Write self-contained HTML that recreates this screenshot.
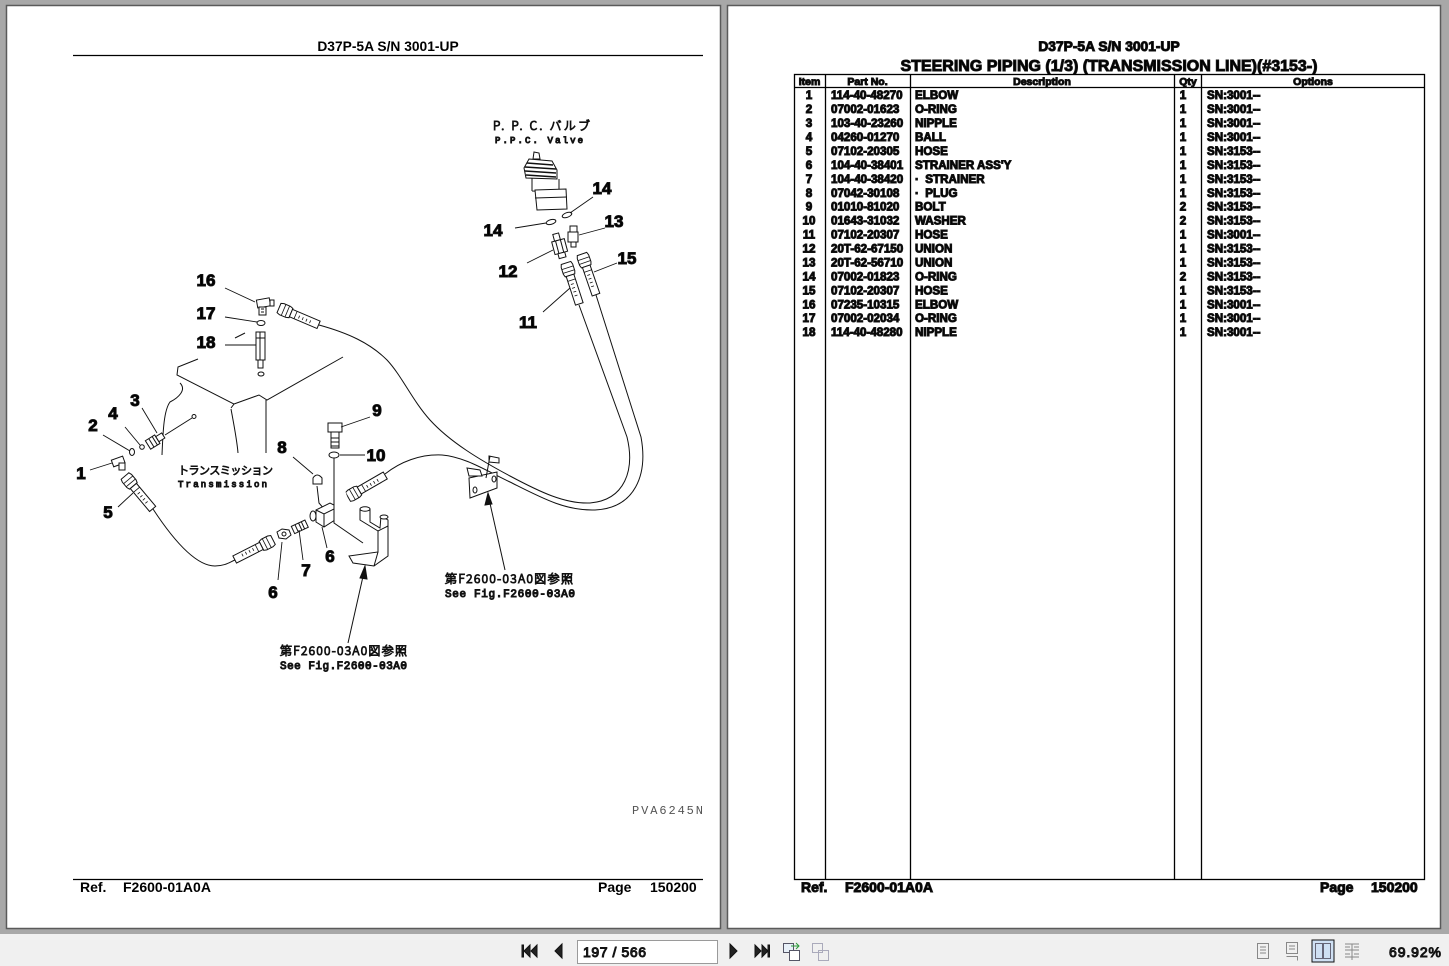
<!DOCTYPE html>
<html><head><meta charset="utf-8"><style>
html,body{margin:0;padding:0;width:1449px;height:966px;overflow:hidden;background:#a8a8a8;}
svg{display:block;}
.b{font-family:"Liberation Sans",Arial,sans-serif;font-weight:bold;fill:#000;}
.n{font-family:"Liberation Sans",Arial,sans-serif;font-weight:bold;font-size:17px;fill:#000;text-anchor:middle;}
.m{font-family:"Liberation Mono","Noto Sans CJK JP",monospace;fill:#555;}
.j{font-family:"Noto Sans CJK JP","Liberation Sans",sans-serif;font-weight:300;fill:#444;}
.t{font-family:"Liberation Sans",Arial,sans-serif;font-weight:bold;font-size:11.6px;fill:#000;}
</style></head><body>
<svg width="1449" height="966" viewBox="0 0 1449 966" xmlns="http://www.w3.org/2000/svg">
<defs>
<g id="he">
<path d="M0,-5 L3,-6 L10,-6 L13,-5 L13,5 L10,6 L3,6 L0,5 Z" fill="#fff" stroke="#111" stroke-width="1"/>
<line x1="5" y1="-6" x2="5" y2="6" stroke="#111" stroke-width="0.8"/>
<line x1="9" y1="-6" x2="9" y2="6" stroke="#111" stroke-width="0.8"/>
<rect x="13" y="-4" width="30" height="8" fill="#fff" stroke="#111" stroke-width="1"/>
<path d="M22,-1 v3 M26,-1 v3 M30,-1 v3 M34,-1 v3 M18,-4 v8" stroke="#111" stroke-width="0.8"/>
</g>
</defs>

<rect x="0" y="0" width="1449" height="966" fill="#a8a8a8"/>
<rect x="6.5" y="5.5" width="714" height="923" fill="#fff" stroke="#5a5a5a" stroke-width="1.5"/>
<rect x="727.5" y="5.5" width="713" height="923" fill="#fff" stroke="#5a5a5a" stroke-width="1.5"/>
<rect x="0" y="934" width="1449" height="32" fill="#f0f0f0"/>

<!-- LEFT PAGE HEADER/FOOTER -->
<text class="b" x="388" y="51" font-size="13.8" text-anchor="middle">D37P-5A S/N 3001-UP</text>
<line x1="73" y1="55.5" x2="703" y2="55.5" stroke="#000" stroke-width="1.2"/>
<line x1="73" y1="879.5" x2="703" y2="879.5" stroke="#000" stroke-width="1.2"/>
<text class="b" x="80" y="892" font-size="14">Ref.</text>
<text class="b" x="123" y="892" font-size="14">F2600-01A0A</text>
<text class="b" x="598" y="892" font-size="14">Page</text>
<text class="b" x="650" y="892" font-size="14">150200</text>
<text class="m" x="632" y="814" font-size="12" textLength="71">PVA6245N</text>

<!-- DIAGRAM -->
<g stroke="#111" stroke-width="1" fill="none">
<path d="M198,359 L178,367 L177,375 L234,404 L231,408 M234,404 L259,395 L267,400 L343,357"/>
<path d="M180,383 C187,390 178,398 170,402 C164,410 163,430 162,455"/>
<path d="M231,409 C233,420 237,440 238,453"/>
<path d="M266,400 L266,453"/>
<path d="M235,338 L245,333"/>

<path d="M319,325 C348,333 370,343 387,360 C402,376 412,400 430,420 C450,442 480,460 510,476 C540,492 565,504 590,503 C625,500 635,470 627,437 L579,305"/>
<path d="M385,474 C400,462 420,454 442,455 C465,457 485,470 510,482 C540,497 565,511 595,510 C635,508 648,475 641,437 L596,295"/>
<path d="M153,509 C172,538 195,566 215,566 C225,566 230,562 235,560"/>

<use href="#he" transform="translate(279,308) rotate(23)"/>
<use href="#he" transform="translate(125,476) rotate(50)"/>
<use href="#he" transform="translate(273,540) rotate(153)"/>
<use href="#he" transform="translate(348,497) rotate(-30)"/>
<use href="#he" transform="translate(566,263) rotate(72)"/>
<use href="#he" transform="translate(582,254) rotate(71)"/>

<g fill="#fff">
<rect x="257" y="299" width="13" height="8" transform="rotate(-10 263 303)"/>
<rect x="259" y="307" width="7" height="8"/>
<rect x="270" y="300" width="4" height="6"/>
<path d="M261,309 h3 M261,312 h3"/>
<ellipse cx="261" cy="323" rx="4" ry="2.5"/>
<rect x="256" y="332" width="9" height="28"/>
<path d="M256,338 h9 M260,332 v28"/>
<rect x="258" y="360" width="5" height="8"/>
<ellipse cx="261" cy="374" rx="3" ry="2"/>
<rect x="112" y="458" width="12" height="7" transform="rotate(-20 118 461)"/>
<rect x="119" y="463" width="6" height="7"/>
<ellipse cx="132" cy="452" rx="2.5" ry="3.5"/>
<circle cx="142" cy="447" r="2.3"/>
<g transform="translate(148,445) rotate(-32)">
<rect x="0" y="-5" width="11" height="10"/>
<path d="M4,-5 v10 M8,-5 v10"/>
<rect x="11" y="-3" width="7" height="6"/>
</g>
<path d="M165,435 L192,418"/>
<circle cx="194" cy="416.5" r="2"/>
<path d="M313,478 Q317,472 322,478 L322,484 L313,484 Z"/>
<path d="M317,486 L319,503 L325,510"/>
<path d="M316,510 L330,503 L338,507 L338,518 L324,527 L316,522 Z"/>
<path d="M316,510 L324,514 L338,507 M324,514 L324,527"/>
<ellipse cx="313" cy="516" rx="3" ry="5"/>
<g transform="translate(293,530) rotate(-25)">
<rect x="0" y="-4" width="15" height="8"/>
<path d="M4,-4 v8 M8,-4 v8 M11,-4 v8"/>
</g>
<path d="M277,532 L282,529 L289,530 L291,535 L286,539 L279,538 Z"/>
<circle cx="284" cy="534" r="2"/>
<rect x="328" y="423" width="14" height="9"/>
<rect x="331" y="432" width="8" height="16"/>
<path d="M331,438 h8 M331,442 h8 M331,446 h8"/>
<ellipse cx="334" cy="455" rx="5" ry="3"/>
<path d="M334,458 L334,523 L363,543"/>
<!-- L-bracket -->
<path d="M360,509 L360,520 L378,531 L378,552 L349,556 L353,563 L374,566 L388,556 L388,520 L381,516 L380,528 L370,522 L370,509"/>
<ellipse cx="365" cy="509" rx="5" ry="2.2"/>
<path d="M378,531 L388,526 M378,552 L374,566"/>
<ellipse cx="384" cy="517" rx="4" ry="2"/>
<!-- right bracket -->
<path d="M469,478 L497,472 L497,488 L470,498 Z"/>
<ellipse cx="475" cy="490" rx="2" ry="3"/>
<ellipse cx="494" cy="479" rx="2" ry="3"/>
<path d="M467,468 L480,470 L482,476 L469,476 Z"/>
<path d="M489,456 L499,458 L499,463 L489,462 Z"/>
<path d="M486,478 L490,456"/>
<rect x="570" y="226" width="7" height="6"/>
<rect x="568" y="232" width="10" height="10"/>
<rect x="571" y="242" width="5" height="5"/>
<g transform="rotate(-15 560 246)">
<rect x="556" y="233" width="6" height="7"/>
<rect x="553" y="240" width="13" height="13"/>
<path d="M557,240 v13 M562,240 v13"/>
<rect x="556" y="253" width="7" height="5"/>
</g>
<ellipse cx="567" cy="215" rx="5" ry="2.3" transform="rotate(-20 567 215)"/>
<ellipse cx="551" cy="222" rx="5" ry="2.3" transform="rotate(-15 551 222)"/>
<!-- PPC valve -->
<path d="M534,152 L539,153 L540,159 L533,159 Z"/>
<path d="M529,159 L552,161 L557,170 L557,179 L526,178 L524,168 Z"/>
<path d="M527,163 L553,165 M525,167 L556,169 M525,171 L556,173 M526,175 L556,177" stroke-width="1.6"/>
<path d="M532,178 L532,191 M559,179 L559,192 M532,191 L559,192"/>
<path d="M535,190 L566,189 L567,209 L537,210 Z"/>
<path d="M535,198 L567,197"/>
</g>
<path d="M225,288 L255,302 M225,317 L257,322 M225,345 L256,345 M142,408 L157,433 M125,427 L140,445 M103,435 L130,451 M90,470 L112,463 M118,507 L133,493 M293,457 L313,474 M278,580 L282,542 M303,560 L299,530 M327,548 L322,527 M370,417 L341,427 M365,455 L340,455 M593,197 L570,213 M515,228 L546,223 M605,228 L579,235 M527,263 L553,250 M617,263 L594,272 M543,312 L570,288" stroke="#111" stroke-width="0.9" fill="none"/>
<path d="M348,643 L364,572" stroke="#111" stroke-width="1"/>
<path d="M365,566 L360,578 L367,579 Z" fill="#111"/>
<path d="M505,570 L489,499" stroke="#111" stroke-width="1"/>
<path d="M488,493 L485,505 L492,504 Z" fill="#111"/>

<text class="n" x="206" y="286">16</text>
<text class="n" x="206" y="319">17</text>
<text class="n" x="206" y="348">18</text>
<text class="n" x="135" y="406">3</text>
<text class="n" x="113" y="419">4</text>
<text class="n" x="93" y="431">2</text>
<text class="n" x="81" y="479">1</text>
<text class="n" x="108" y="518">5</text>
<text class="n" x="282" y="453">8</text>
<text class="n" x="377" y="416">9</text>
<text class="n" x="376" y="461">10</text>
<text class="n" x="273" y="598">6</text>
<text class="n" x="306" y="576">7</text>
<text class="n" x="330" y="562">6</text>
<text class="n" x="602" y="194">14</text>
<text class="n" x="493" y="236">14</text>
<text class="n" x="614" y="227">13</text>
<text class="n" x="508" y="277">12</text>
<text class="n" x="627" y="264">15</text>
<text class="n" x="528" y="328">11</text>

<text class="j" x="493" y="130" font-size="12" textLength="97">P. P. C. バルブ</text>
<text class="m" x="495" y="143" font-size="9" textLength="88">P.P.C. Valve</text>
<text class="j" x="178" y="474" font-size="11" textLength="95">トランスミッション</text>
<text class="m" x="178" y="487" font-size="9" textLength="89">Transmission</text>
<text class="j" x="280" y="655" font-size="12" textLength="127">第F2600-03A0図参照</text>
<text class="m" x="280" y="669" font-size="11" textLength="127">See Fig.F2600-03A0</text>
<text class="j" x="445" y="583" font-size="12" textLength="128">第F2600-03A0図参照</text>
<text class="m" x="445" y="597" font-size="11" textLength="130">See Fig.F2600-03A0</text>

<!-- RIGHT PAGE -->
<text class="b" x="1109" y="51" font-size="13.8" text-anchor="middle">D37P-5A S/N 3001-UP</text>
<text class="b" x="1109" y="71" font-size="16" text-anchor="middle">STEERING PIPING (1/3) (TRANSMISSION LINE)(#3153-)</text>
<g stroke="#000" stroke-width="1.3" fill="none">
<rect x="794.5" y="74.5" width="630" height="805"/>
<line x1="794" y1="87.5" x2="1425" y2="87.5"/>
<line x1="825.5" y1="74" x2="825.5" y2="880"/>
<line x1="910.5" y1="74" x2="910.5" y2="880"/>
<line x1="1174.5" y1="74" x2="1174.5" y2="880"/>
<line x1="1201.5" y1="74" x2="1201.5" y2="880"/>
</g>
<g class="b" font-size="10.5" text-anchor="middle">
<text x="809.5" y="85">Item</text>
<text x="867.5" y="85">Part No.</text>
<text x="1042" y="85">Description</text>
<text x="1188" y="85">Qty</text>
<text x="1313" y="85">Options</text>
</g>
<g class="t">
<text x="809" y="99.2" text-anchor="middle">1</text><text x="831" y="99.2">114-40-48270</text><text x="915" y="99.2">ELBOW</text><text x="1183" y="99.2" text-anchor="middle">1</text><text x="1207" y="99.2">SN:3001--</text>
<text x="809" y="113.1" text-anchor="middle">2</text><text x="831" y="113.1">07002-01623</text><text x="915" y="113.1">O-RING</text><text x="1183" y="113.1" text-anchor="middle">1</text><text x="1207" y="113.1">SN:3001--</text>
<text x="809" y="127.1" text-anchor="middle">3</text><text x="831" y="127.1">103-40-23260</text><text x="915" y="127.1">NIPPLE</text><text x="1183" y="127.1" text-anchor="middle">1</text><text x="1207" y="127.1">SN:3001--</text>
<text x="809" y="141.0" text-anchor="middle">4</text><text x="831" y="141.0">04260-01270</text><text x="915" y="141.0">BALL</text><text x="1183" y="141.0" text-anchor="middle">1</text><text x="1207" y="141.0">SN:3001--</text>
<text x="809" y="155.0" text-anchor="middle">5</text><text x="831" y="155.0">07102-20305</text><text x="915" y="155.0">HOSE</text><text x="1183" y="155.0" text-anchor="middle">1</text><text x="1207" y="155.0">SN:3153--</text>
<text x="809" y="168.9" text-anchor="middle">6</text><text x="831" y="168.9">104-40-38401</text><text x="915" y="168.9">STRAINER ASS'Y</text><text x="1183" y="168.9" text-anchor="middle">1</text><text x="1207" y="168.9">SN:3153--</text>
<text x="809" y="182.8" text-anchor="middle">7</text><text x="831" y="182.8">104-40-38420</text><text x="915" y="182.8">·&#160;&#160;STRAINER</text><text x="1183" y="182.8" text-anchor="middle">1</text><text x="1207" y="182.8">SN:3153--</text>
<text x="809" y="196.8" text-anchor="middle">8</text><text x="831" y="196.8">07042-30108</text><text x="915" y="196.8">·&#160;&#160;PLUG</text><text x="1183" y="196.8" text-anchor="middle">1</text><text x="1207" y="196.8">SN:3153--</text>
<text x="809" y="210.7" text-anchor="middle">9</text><text x="831" y="210.7">01010-81020</text><text x="915" y="210.7">BOLT</text><text x="1183" y="210.7" text-anchor="middle">2</text><text x="1207" y="210.7">SN:3153--</text>
<text x="809" y="224.7" text-anchor="middle">10</text><text x="831" y="224.7">01643-31032</text><text x="915" y="224.7">WASHER</text><text x="1183" y="224.7" text-anchor="middle">2</text><text x="1207" y="224.7">SN:3153--</text>
<text x="809" y="238.6" text-anchor="middle">11</text><text x="831" y="238.6">07102-20307</text><text x="915" y="238.6">HOSE</text><text x="1183" y="238.6" text-anchor="middle">1</text><text x="1207" y="238.6">SN:3001--</text>
<text x="809" y="252.5" text-anchor="middle">12</text><text x="831" y="252.5">20T-62-67150</text><text x="915" y="252.5">UNION</text><text x="1183" y="252.5" text-anchor="middle">1</text><text x="1207" y="252.5">SN:3153--</text>
<text x="809" y="266.5" text-anchor="middle">13</text><text x="831" y="266.5">20T-62-56710</text><text x="915" y="266.5">UNION</text><text x="1183" y="266.5" text-anchor="middle">1</text><text x="1207" y="266.5">SN:3153--</text>
<text x="809" y="280.4" text-anchor="middle">14</text><text x="831" y="280.4">07002-01823</text><text x="915" y="280.4">O-RING</text><text x="1183" y="280.4" text-anchor="middle">2</text><text x="1207" y="280.4">SN:3153--</text>
<text x="809" y="294.4" text-anchor="middle">15</text><text x="831" y="294.4">07102-20307</text><text x="915" y="294.4">HOSE</text><text x="1183" y="294.4" text-anchor="middle">1</text><text x="1207" y="294.4">SN:3153--</text>
<text x="809" y="308.3" text-anchor="middle">16</text><text x="831" y="308.3">07235-10315</text><text x="915" y="308.3">ELBOW</text><text x="1183" y="308.3" text-anchor="middle">1</text><text x="1207" y="308.3">SN:3001--</text>
<text x="809" y="322.2" text-anchor="middle">17</text><text x="831" y="322.2">07002-02034</text><text x="915" y="322.2">O-RING</text><text x="1183" y="322.2" text-anchor="middle">1</text><text x="1207" y="322.2">SN:3001--</text>
<text x="809" y="336.2" text-anchor="middle">18</text><text x="831" y="336.2">114-40-48280</text><text x="915" y="336.2">NIPPLE</text><text x="1183" y="336.2" text-anchor="middle">1</text><text x="1207" y="336.2">SN:3001--</text>
</g>
<text class="b" x="801" y="892" font-size="14">Ref.</text>
<text class="b" x="845" y="892" font-size="14">F2600-01A0A</text>
<text class="b" x="1320" y="892" font-size="14">Page</text>
<text class="b" x="1371" y="892" font-size="14">150200</text>

<!-- TOOLBAR -->
<g fill="#222">
<path d="M524,951 L530,945 L530,957 Z M531,951 L537,945 L537,957 Z"/>
<rect x="522" y="945" width="1.5" height="12"/>
<path d="M555,951 L562,944 L562,958 Z"/>
<path d="M730,944 L737,951 L730,958 Z"/>
<path d="M755,945 L761,951 L755,957 Z M762,945 L768,951 L762,957 Z"/>
<rect x="768" y="945" width="1.5" height="12"/>
<path d="M706,950 L712,950 L709,954 Z" fill="#555"/>
</g>
<rect x="577.5" y="940.5" width="140" height="23" fill="#fff" stroke="#9a9a9a"/>
<text x="583" y="957" font-family="Liberation Sans, Arial, sans-serif" font-size="14" fill="#333" textLength="63">197 / 566</text>
<g fill="none" stroke="#556" stroke-width="1">
<rect x="783.5" y="943.5" width="10" height="9" fill="#e8f0f8"/>
<rect x="789.5" y="950.5" width="10" height="10" fill="#fff"/>
<path d="M791,946 L799,946 M796,943 L799,946 L796,949" stroke="#2a9a3a"/>
<rect x="812.5" y="943.5" width="10" height="9" stroke="#aab"/>
<rect x="818.5" y="950.5" width="10" height="10" stroke="#aab"/>
</g>
<rect x="1312" y="940" width="22" height="22" fill="#cfe0f3"/>
<g fill="none" stroke="#888" stroke-width="1">
<rect x="1257.5" y="943.5" width="11" height="15"/>
<path d="M1260,947 h6 M1260,950 h6 M1260,953 h6"/>
<rect x="1286.5" y="942.5" width="11" height="11"/>
<path d="M1289,946 h6 M1289,949 h6 M1286.5,956.5 h11 v4"/>
<rect x="1315.5" y="943.5" width="7" height="15" stroke="#667"/>
<rect x="1323.5" y="943.5" width="7" height="15" stroke="#667"/>
<path d="M1345,944 h14 M1345,947 h5 M1354,947 h5 M1345,950 h14 M1352,944 v16 M1345,954 h5 M1354,954 h5 M1345,957 h14"/>
</g>
<text x="1389" y="957" font-family="Liberation Sans, Arial, sans-serif" font-size="14" fill="#333" textLength="52">69.92%</text>
</svg>
</body></html>
